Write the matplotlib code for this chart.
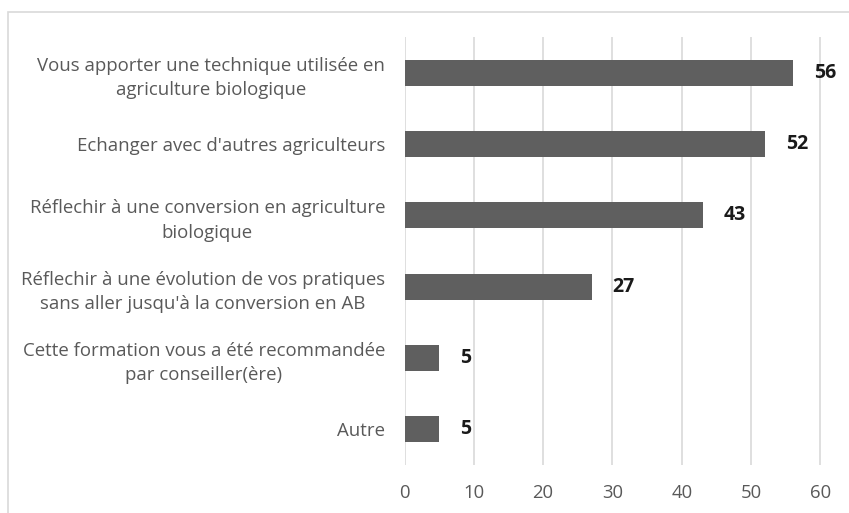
import matplotlib.pyplot as plt
from matplotlib.patches import Rectangle

categories = [
    "Vous apporter une technique utilisée en\nagriculture biologique",
    "Echanger avec d'autres agriculteurs",
    "Réflechir à une conversion en agriculture\nbiologique",
    "Réflechir à une évolution de vos pratiques\nsans aller jusqu'à la conversion en AB",
    "Cette formation vous a été recommandée\npar conseiller(ère)",
    "Autre",
]
values = [56, 52, 43, 27, 5, 5]
xticks = [0, 10, 20, 30, 40, 50, 60]

plt.rcParams['font.family'] = ['Open Sans', 'DejaVu Sans']

fig = plt.figure(figsize=(8.49, 5.13), dpi=100)
ax = fig.add_axes([404.5 / 849, 1 - 464.6 / 513, 422.9 / 849, 427.2 / 513])

pos = list(range(len(categories)))
ax.barh(pos, values, height=0.365, color='#5f5f5f', zorder=3)
for p, v in zip(pos, values):
    ax.annotate(str(v), (v, p), xytext=(15, 0), textcoords='offset points',
                ha='left', va='center', fontsize=14, fontweight='bold', color='#1a1a1a')

ax.set_ylim(5.5, -0.5)
ax.set_xlim(0, 61)
ax.set_xticks(xticks)
ax.set_yticks(pos)
ax.set_yticklabels(categories, fontsize=13.4, color='#595959', multialignment='center',
                   linespacing=1.45)
ax.tick_params(axis='both', length=0, labelcolor='#595959')
ax.tick_params(axis='y', pad=14)
ax.tick_params(axis='x', pad=14, labelsize=13.3)
ax.grid(axis='x', color='#d9d9d9', linewidth=1.2, zorder=0)
for s in ax.spines.values():
    s.set_visible(False)

fig.patches.append(Rectangle((8 / 849, -0.1), 1.2, 1 - 12 / 513 + 0.1, transform=fig.transFigure,
                             fill=False, edgecolor='#d9d9d9', linewidth=1.2))

fig.savefig('out.png', dpi=100)
